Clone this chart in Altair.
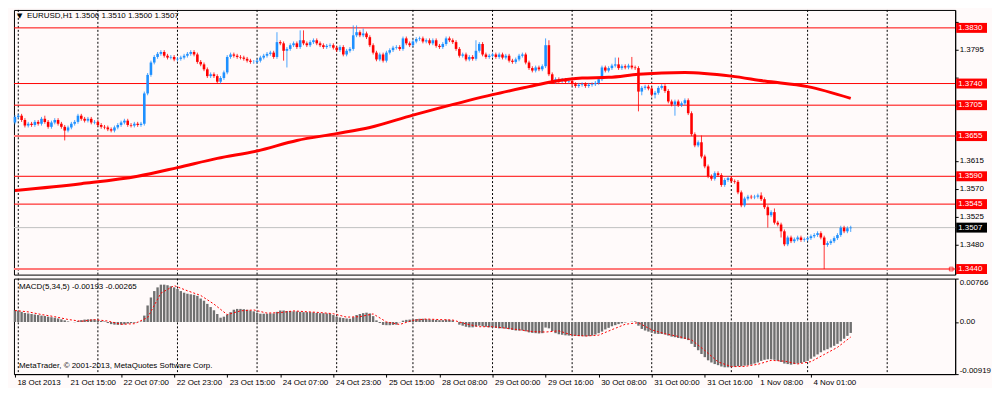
import altair as alt
import pandas as pd

# ---------------- data (prices in pips = price * 1e4) ----------------
SYMBOL = "EURUSD,H1"
OPEN_FIRST = 13677
CLOSE = [
    13686, 13688, 13681, 13672, 13675, 13673, 13678, 13675, 13683, 13678,
    13670, 13677, 13681, 13675, 13670, 13664, 13669, 13675, 13678, 13688,
    13683, 13680, 13683, 13677, 13678, 13673, 13670, 13669, 13666, 13664,
    13669, 13673, 13677, 13680, 13673, 13672, 13675, 13673, 13675, 13724,
    13754, 13774, 13783, 13788, 13791, 13785, 13782, 13783, 13779, 13780,
    13782, 13785, 13788, 13791, 13787, 13775, 13771, 13763, 13752, 13755,
    13752, 13743, 13749, 13758, 13783, 13787, 13785, 13783, 13782, 13780,
    13777, 13775, 13775, 13777, 13782, 13785, 13788, 13790, 13783, 13807,
    13805, 13793, 13796, 13802, 13805, 13799, 13810, 13805, 13802, 13807,
    13810, 13805, 13802, 13799, 13801, 13802, 13798, 13794, 13799, 13787,
    13793, 13796, 13818, 13823, 13818, 13821, 13815, 13802, 13790, 13779,
    13787, 13777, 13790, 13794, 13798, 13799, 13796, 13813, 13805, 13802,
    13808, 13812, 13813, 13808, 13810, 13805, 13810, 13801, 13799, 13804,
    13813, 13810, 13807, 13796, 13785, 13787, 13779, 13783, 13780, 13793,
    13804, 13787, 13783, 13785, 13787, 13783, 13787, 13782, 13785, 13777,
    13775, 13779, 13785, 13787, 13774, 13765, 13761, 13766, 13763, 13768,
    13802, 13755, 13743, 13747, 13744, 13746, 13743, 13744, 13739, 13736,
    13738, 13739, 13736, 13738, 13739, 13741, 13747, 13766, 13761, 13765,
    13769, 13771, 13765, 13768, 13766, 13769, 13766, 13765, 13727, 13733,
    13735, 13732, 13722, 13725, 13733, 13736, 13728, 13711, 13706, 13711,
    13705, 13708, 13713, 13692, 13658, 13640, 13645, 13622, 13606, 13590,
    13586, 13595, 13592, 13576, 13584, 13587, 13582, 13581, 13564, 13543,
    13554, 13557, 13556, 13557, 13559, 13553, 13540, 13527, 13532, 13515,
    13512, 13501, 13480, 13491, 13485, 13488, 13491, 13487, 13488, 13490,
    13493, 13495, 13498, 13491, 13479, 13482, 13485, 13490, 13495, 13507,
    13501, 13506, 13507,
]
WICK_DEFAULT = 3
UPPER_WICK = {9: 5, 79: 16, 86: 16, 87: 16, 102: 16, 103: 11, 105: 8, 139: 17,
              160: 11, 161: 8, 181: 11, 182: 11, 186: 14, 207: 11, 225: 5, 229: 6, 252: 3}
LOWER_WICK = {15: 16, 81: 16, 82: 27, 188: 32, 189: 6, 193: 6, 199: 18,
              227: 20, 231: 10, 244: 39, 252: 6}

MA_IDX = [0, 20, 37, 49, 61, 73, 85, 97, 107, 120, 127, 144, 155, 162, 171, 179,
          188, 202, 216, 226, 239, 252]
MA_VAL = [13567, 13578, 13590, 13604, 13619, 13631, 13648, 13659, 13669, 13689, 13699,
          13722, 13735, 13743, 13749, 13750, 13755, 13758, 13752, 13744, 13735, 13716]

# MACD main (1e-5 units)
MACD = [
    207, 198, 179, 160, 151, 141, 132, 123, 113, 104,
    94, 85, 76, 62, 47, 29, 10, 0, -4, 19,
    33, 43, 47, 47, 43, 33, 19, 10, -18, -37,
    -47, -51, -47, -42, -28, -18, -14, -4, 10, 113,
    292, 433, 546, 611, 659, 659, 649, 630, 611, 583,
    546, 517, 499, 489, 480, 461, 414, 376, 320, 264,
    207, 141, 76, 94, 132, 174, 217, 231, 231, 226,
    217, 203, 188, 160, 146, 146, 146, 151, 151, 179,
    203, 203, 193, 193, 188, 188, 179, 174, 174, 174,
    170, 160, 156, 156, 151, 146, 123, 94, 80, 71,
    62, 57, 85, 123, 141, 156, 165, 151, 104, 29,
    -18, -51, -56, -56, -51, -47, -4, 24, 38, 43,
    47, 52, 57, 57, 52, 47, 43, 38, 33, 33,
    43, 38, 29, 0, -47, -65, -84, -94, -94, -80,
    -65, -75, -84, -94, -98, -103, -112, -112, -117, -127,
    -141, -150, -150, -150, -164, -183, -192, -197, -202, -197,
    -98, -112, -159, -197, -216, -225, -235, -239, -239, -244,
    -249, -249, -253, -249, -239, -221, -197, -169, -131, -103,
    -75, -56, -37, -23, -9, 0, 5, 10, -65, -122,
    -150, -169, -188, -206, -211, -211, -221, -239, -258, -268,
    -282, -291, -300, -319, -385, -441, -498, -564, -620, -676,
    -714, -742, -761, -785, -799, -799, -794, -789, -780, -780,
    -770, -761, -752, -733, -714, -686, -667, -658, -658, -667,
    -686, -705, -733, -742, -752, -742, -733, -724, -705, -686,
    -648, -610, -572, -534, -500, -480, -450, -420, -385, -340,
    -295, -245, -193,
]
SIG_IDX = list(range(0, 253, 4))
SIG_VAL = [
    203, 179, 132, 94, 45, 12, 43, 17, -40, -30,
    79, 508, 642, 551, 469, 316, 130, 197, 213, 157,
    166, 196, 181, 167, 146, 86, 94, 143, 2, -43,
    30, 53, 43, 35, -33, -83, -83, -108, -137, -168,
    -177, -156, -231, -247, -232, -135, -40, -12, -139, -207,
    -254, -315, -502, -703, -788, -783, -746, -677, -690, -740,
    -699, -573, -447, -265,
]

LEVELS = [1.3830, 1.3740, 1.3705, 1.3655, 1.3590, 1.3545, 1.3440]
BID = 1.3507
PRICE_TICKS = [1.3435, 1.3480, 1.3525, 1.3570, 1.3615, 1.3660, 1.3705, 1.3750, 1.3795, 1.3840]
MACD_TICKS = [0.00766, 0.0, -0.00919]
LABEL_BARS = [0, 16, 32, 48, 64, 80, 96, 112, 128, 144, 160, 176, 192, 208, 224, 240]
LABEL_TEXT = ["18 Oct 2013", "21 Oct 15:00", "22 Oct 07:00", "22 Oct 23:00", "23 Oct 15:00",
              "24 Oct 07:00", "24 Oct 23:00", "25 Oct 15:00", "28 Oct 08:00", "29 Oct 00:00",
              "29 Oct 16:00", "30 Oct 08:00", "31 Oct 00:00", "31 Oct 16:00", "1 Nov 08:00",
              "4 Nov 01:00"]
GRID_BARS = [1, 25, 49, 73, 97, 120, 144, 168, 192, 216, 239, 263]
COPYRIGHT = "MetaTrader, \u00a9 2001-2013, MetaQuotes Software Corp."

# ---------------- styling / layout ----------------
W, H1, H2 = 946, 266, 96
FONT = "Liberation Sans"
BLUE = "#1E90FF"
RED = "#FF0000"
BG = "#FFFAFA"
STRONG_LEVELS = {1.3655, 1.3440}
X_DOMAIN = [-0.3, 283.5]
Y_DOMAIN = [1.3431, 1.3859]
M_DOMAIN = [-0.00919, 0.00766]

# ---------------- tables ----------------
N = len(CLOSE)
opens = [OPEN_FIRST] + CLOSE[:-1]
highs = [max(o, c) + UPPER_WICK.get(i, WICK_DEFAULT) for i, (o, c) in enumerate(zip(opens, CLOSE))]
lows = [min(o, c) - LOWER_WICK.get(i, WICK_DEFAULT) for i, (o, c) in enumerate(zip(opens, CLOSE))]
df = pd.DataFrame({
    "i": list(range(N)),
    "o": [v / 1e4 for v in opens],
    "c": [v / 1e4 for v in CLOSE],
    "h": [v / 1e4 for v in highs],
    "l": [v / 1e4 for v in lows],
})
ma_df = pd.DataFrame({"i": MA_IDX, "p": [v / 1e4 for v in MA_VAL]})
macd_df = pd.DataFrame({"i": list(range(N)), "m": [v / 1e5 for v in MACD]})
sig_df = pd.DataFrame({"i": SIG_IDX, "s": [v / 1e5 for v in SIG_VAL]})
grid_df = pd.DataFrame({"g": GRID_BARS})
lev_df = pd.DataFrame({"p": LEVELS, "strong": [v in STRONG_LEVELS for v in LEVELS]})
box_df = pd.DataFrame({
    "p": LEVELS + [BID],
    "label": [f"{v:.4f}" for v in LEVELS + [BID]],
    "fill": [RED] * len(LEVELS) + ["#000000"],
})
bid_df = pd.DataFrame({"p": [BID]})
last = df.iloc[-1]
header = f"{SYMBOL}  {last.o:.4f} {last.h:.4f} {last.l:.4f} {last.c:.4f}"
macd_title = f"MACD(5,34,5) {MACD[-1] / 1e5:.5f} {SIG_VAL[-1] / 1e5:.5f}"

# price-axis labels that sit under a level box are hidden (as in the terminal)
hidden = [t for t in PRICE_TICKS if min(abs(t - v) for v in LEVELS + [BID]) < 0.0011]
ylabel_expr = "".join(f"abs(datum.value - {t}) < 0.000001 ? '' : " for t in hidden) + "format(datum.value, '.4f')"

# ---------------- scales / axes ----------------
xsc = alt.Scale(domain=X_DOMAIN, nice=False, zero=False, padding=0)
ysc = alt.Scale(domain=Y_DOMAIN, nice=False, zero=False, padding=0)
msc = alt.Scale(domain=M_DOMAIN, nice=False, zero=False, padding=0)
yaxis = alt.Axis(orient="right", values=PRICE_TICKS, labelExpr=ylabel_expr, tickSize=3,
                 labelPadding=1, title=None, grid=False)
maxis = alt.Axis(orient="right", values=MACD_TICKS,
                 labelExpr="datum.value == 0 ? '0.00' : replace(format(datum.value, '.5f'), '\u2212', '-')",
                 labelFlush=True, tickSize=3, labelPadding=1, title=None, grid=False)
xexpr = " : ".join(f"datum.value == {b} ? '{t}'" for b, t in zip(LABEL_BARS, LABEL_TEXT)) + " : ''"
xaxis = alt.Axis(values=LABEL_BARS, labelExpr=xexpr, labelAlign="left", labelOffset=2,
                 labelPadding=1, tickSize=3, title=None, grid=False, labelOverlap=False,
                 labelFlush=False, labelBound=False)


def XM(f):
    return alt.X(f, type="quantitative", scale=xsc, axis=None)


def YM(f):
    return alt.Y(f, type="quantitative", scale=ysc, axis=yaxis)


def XB(f):
    return alt.X(f, type="quantitative", scale=xsc, axis=xaxis)


def YB(f):
    return alt.Y(f, type="quantitative", scale=msc, axis=maxis)


# ---------------- main panel ----------------
grid_main = alt.Chart(grid_df).mark_rule(color="black", strokeDash=[2, 2], strokeWidth=1).encode(x=XM("g"))
lev_lines = alt.Chart(lev_df).mark_rule().encode(
    y=YM("p"),
    color=alt.condition("datum.strong", alt.value("#FF7878"), alt.value(RED)),
    strokeWidth=alt.condition("datum.strong", alt.value(2), alt.value(1)),
)
bid_line = alt.Chart(bid_df).mark_rule(color="#C0C0C0", strokeWidth=1).encode(y=YM("p"))
col = alt.condition("datum.c >= datum.o", alt.value(BLUE), alt.value(RED))
wicks = alt.Chart(df).mark_rule(strokeWidth=1, opacity=0.8).encode(x=XM("i"), y=YM("l"), y2="h:Q", color=col)
bodies = alt.Chart(df).mark_bar(size=2.6).encode(x=XM("i"), y=YM("o"), y2="c:Q", color=col)
ma_line = alt.Chart(ma_df).mark_line(color=RED, strokeWidth=3, interpolate="monotone").encode(x=XM("i"), y=YM("p"))

half = 5 * (Y_DOMAIN[1] - Y_DOMAIN[0]) / H1
boxes = alt.Chart(box_df).transform_calculate(
    lo=f"datum.p - {half}", hi=f"datum.p + {half}"
).mark_rect().encode(
    x=alt.value(W + 1), x2=alt.value(W + 32), y=YM("lo"), y2="hi:Q",
    color=alt.Color("fill:N", scale=None),
)
box_text = alt.Chart(box_df).mark_text(align="left", baseline="middle", color="white",
                                       font=FONT, fontSize=8).encode(
    x=alt.value(W + 3), y=YM("p"), text="label:N")
end_mark = alt.Chart(pd.DataFrame({"p": [min(LEVELS)]})).mark_point(
    shape="square", size=14, filled=False, color=RED, strokeWidth=1).encode(
    x=alt.value(W - 4), y=YM("p"))
tri = alt.Chart(pd.DataFrame({"t": ["\u25bc"]})).mark_text(
    align="left", baseline="middle", fontSize=7, font="DejaVu Sans", color="black").encode(
    x=alt.value(3), y=alt.value(6), text="t:N")
head = alt.Chart(pd.DataFrame({"t": [header]})).mark_text(
    align="left", baseline="middle", fontSize=8, font=FONT, color="black").encode(
    x=alt.value(13), y=alt.value(6), text="t:N")

main = alt.layer(grid_main, lev_lines, bid_line, wicks, bodies, ma_line, end_mark,
                 boxes, box_text, tri, head).properties(width=W, height=H1)

# ---------------- MACD panel ----------------
grid_macd = alt.Chart(grid_df).mark_rule(color="black", strokeDash=[2, 2], strokeWidth=1).encode(x=XB("g"))
hist = alt.Chart(macd_df).mark_bar(size=2.4, color="#707070").encode(
    x=XB("i"), y=YB("m"), y2=alt.datum(0))
sig = alt.Chart(sig_df).mark_line(color=RED, strokeDash=[2, 2], strokeWidth=1).encode(
    x=XB("i"), y=YB("s"))
mtitle = alt.Chart(pd.DataFrame({"t": [macd_title]})).mark_text(
    align="left", baseline="middle", fontSize=8, font=FONT, color="black").encode(
    x=alt.value(5), y=alt.value(8), text="t:N")
copy = alt.Chart(pd.DataFrame({"t": [COPYRIGHT]})).mark_text(
    align="left", baseline="middle", fontSize=8, font=FONT, color="black").encode(
    x=alt.value(5), y=alt.value(H2 - 8), text="t:N")

macd = alt.layer(grid_macd, hist, sig, mtitle, copy).properties(width=W, height=H2)

chart = alt.vconcat(main, macd, spacing=2).properties(
    background=BG, padding=0
).configure_view(
    stroke="black", strokeWidth=1, fill=BG
).configure_axis(
    labelFont=FONT, labelFontSize=8, labelColor="black", tickColor="black",
    domainColor="black", grid=False
)

chart.save("out.html", embed_options={"renderer": "svg", "actions": False})
